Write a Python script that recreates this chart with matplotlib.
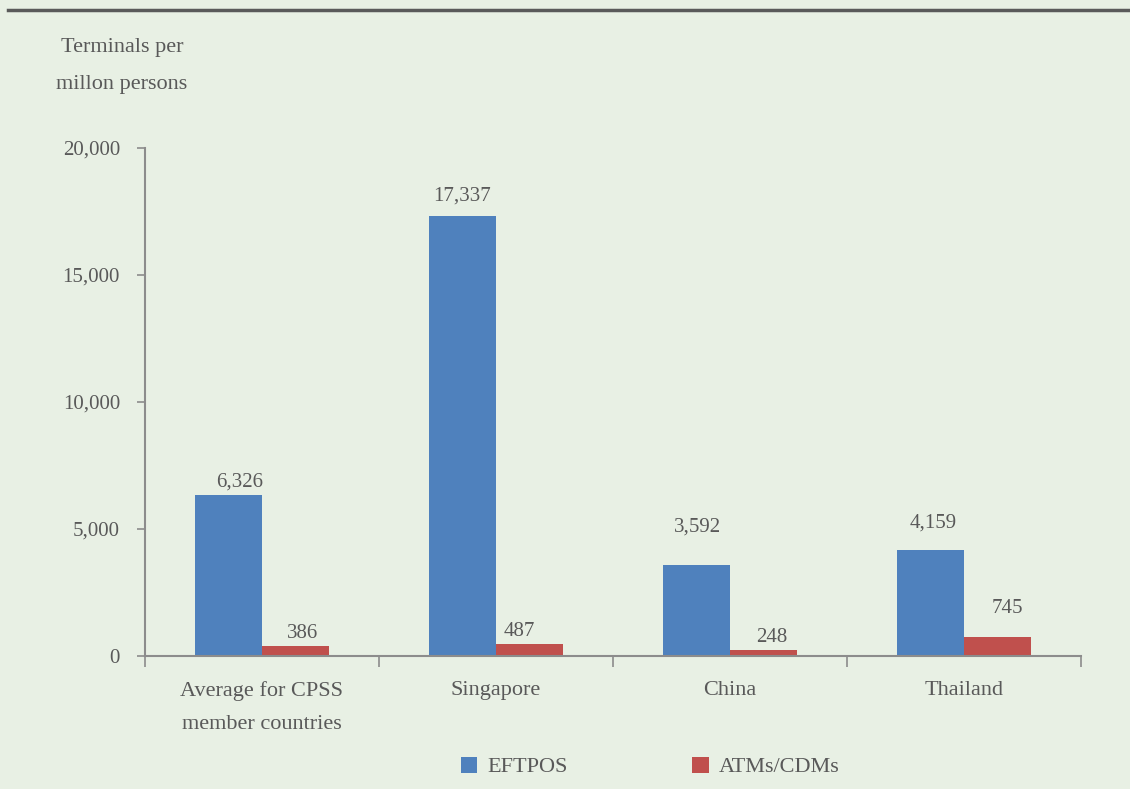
import numpy as np
import matplotlib
matplotlib.use("Agg")
import matplotlib.pyplot as plt

categories = ["Average for CPSS\nmember countries", "Singapore", "China", "Thailand"]
eftpos = [6326, 17337, 3592, 4159]
atms = [386, 487, 248, 745]
series_names = ["EFTPOS", "ATMs/CDMs"]

bg = "#e8f0e4"
txt = "#595959"
axc = "#8c8c8c"
blue = "#4f81bd"
red = "#c0504d"

plt.rcParams['font.family'] = ['Liberation Serif', 'DejaVu Serif']

fig = plt.figure(figsize=(11.3, 7.89), dpi=100, facecolor=bg)
ax = fig.add_axes([145 / 1130, 1 - 656 / 789, 936 / 1130, 508 / 789])
ax.set_facecolor(bg)

x = np.arange(len(categories))
w = 0.286
b1 = ax.bar(x - w / 2, eftpos, w, color=blue, label=series_names[0])
b2 = ax.bar(x + w / 2, atms, w, color=red, label=series_names[1])

# label offsets (points) as placed in the original
off1 = [3, 7, 20, 13]
off2 = [2, 2, 2, 14]
dx1 = [8, 0, 1, 2]
dx2 = [5, -7, 6, 7]
for i in range(len(categories)):
    ax.annotate(f"{eftpos[i]:,}", (x[i] - w / 2, eftpos[i]), xytext=(dx1[i], off1[i]),
                textcoords="offset points", ha="center", va="bottom", fontsize=15, color=txt)
    ax.annotate(f"{atms[i]:,}", (x[i] + w / 2, atms[i]), xytext=(dx2[i], off2[i]),
                textcoords="offset points", ha="center", va="bottom", fontsize=15, color=txt)

ax.set_xlim(-0.5, len(categories) - 0.5)
ax.set_ylim(0, 20000)
ax.set_yticks([0, 5000, 10000, 15000, 20000])
ax.set_yticklabels([f"{v:,}" for v in [0, 5000, 10000, 15000, 20000]])
ax.set_xticks(x)
ax.set_xticklabels(categories, linespacing=2.0)
ax.set_xticks(np.arange(len(categories) + 1) - 0.5, minor=True)
ax.tick_params(axis="x", which="major", length=0, pad=18, labelsize=16, labelcolor=txt)
ax.tick_params(axis="x", which="minor", length=8, width=1.2, color=axc, direction="out")
ax.tick_params(axis="y", length=6, width=1.2, color=axc, pad=12, labelsize=15, labelcolor=txt)

for s in ["top", "right"]:
    ax.spines[s].set_visible(False)
for s in ["left", "bottom"]:
    ax.spines[s].set_color(axc)
    ax.spines[s].set_linewidth(1.5)

fig.text(122 / 1130, 1 - 66 / 789, "Terminals per\nmillon persons", ha="center", va="center",
         fontsize=16, color=txt, linespacing=2.25)

# header rule
fig.add_artist(plt.Line2D([8 / 1130, 1], [1 - 10 / 789] * 2, color="#5a5a5a", lw=2.5))

ax.legend(loc="center", bbox_to_anchor=(650 / 1130, 1 - 767 / 789), bbox_transform=fig.transFigure,
          ncol=2, frameon=False, fontsize=16, labelcolor=txt, handlelength=0.75, handleheight=0.75,
          handletextpad=0.45, columnspacing=5.6)

fig.savefig("out.png", dpi=100, facecolor=bg)
